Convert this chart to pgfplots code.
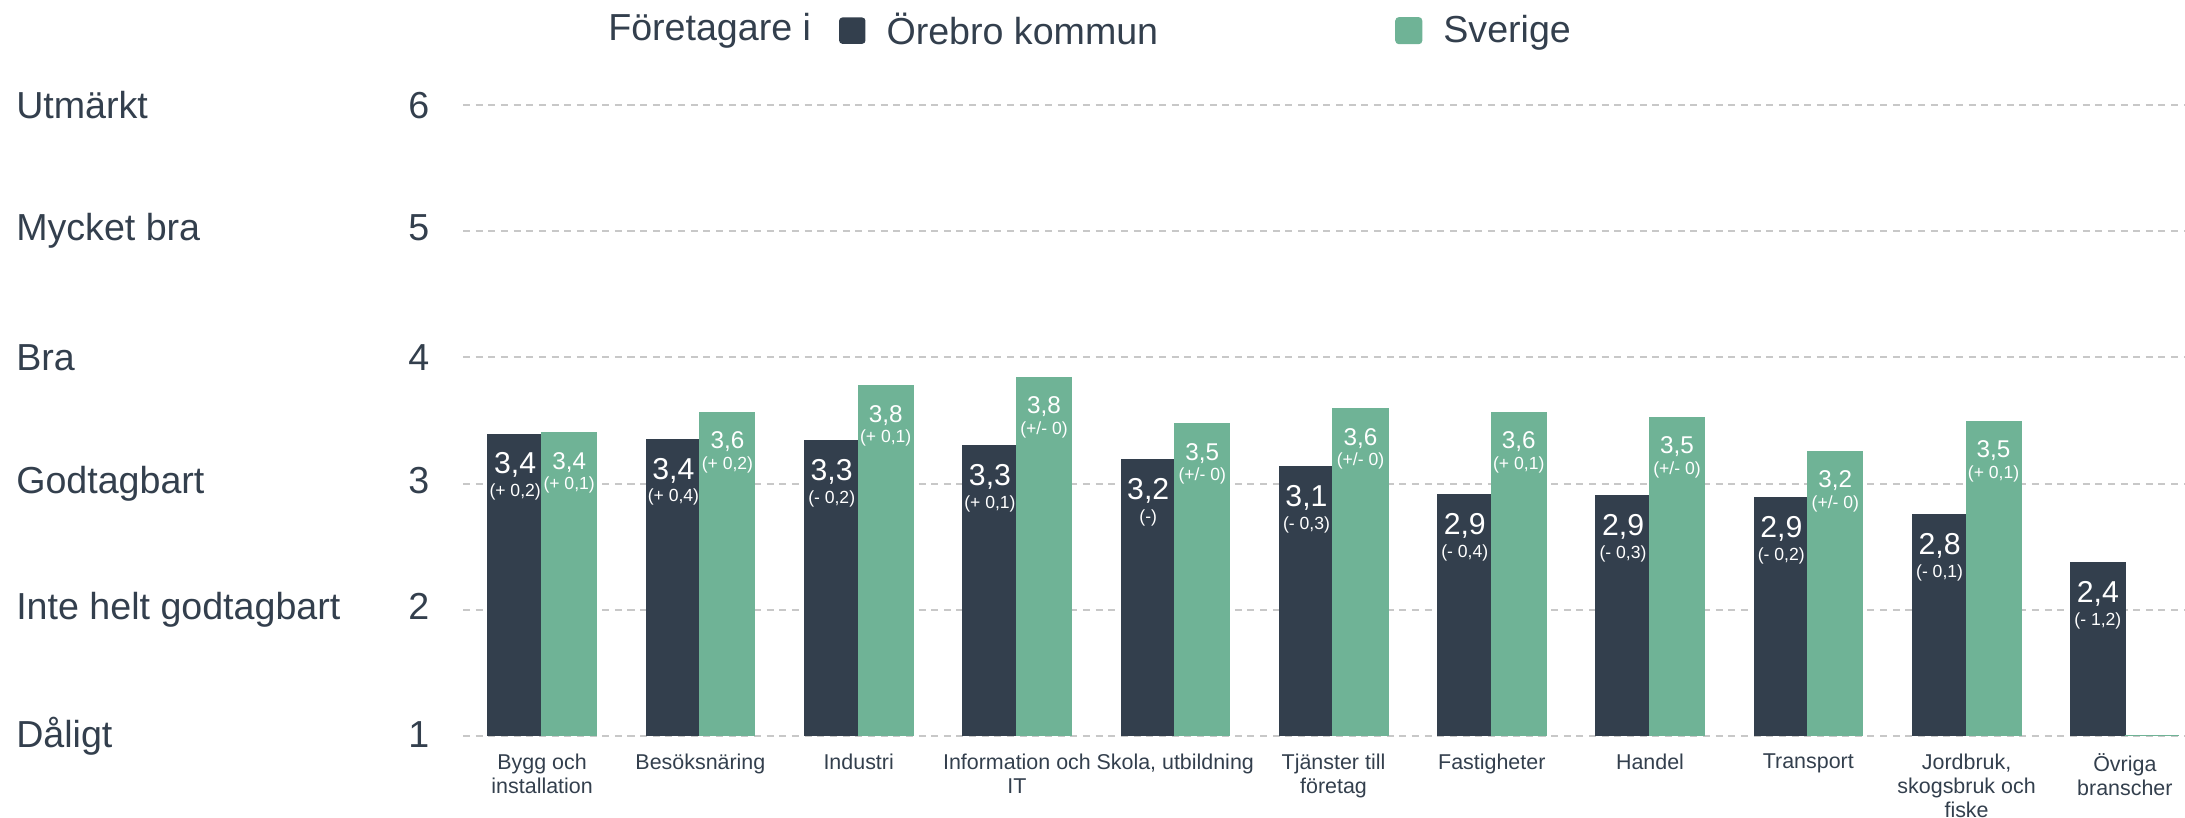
\documentclass[border=0pt]{standalone}
\usepackage{fontspec}
\setmainfont{Liberation Sans}
\usepackage{pgfplots}
\usepackage{pgfplotstable}
\pgfplotsset{compat=1.18}
\definecolor{navy}{HTML}{333F4D}
\definecolor{sgreen}{HTML}{6FB396}
\definecolor{txt}{HTML}{333F4D}
\definecolor{gridc}{HTML}{C8C8C8}

\pgfplotstableread[col sep=semicolon]{
x;y;val;delta
0;3.39;3,4;(+ 0,2)
1;3.35;3,4;(+ 0,4)
2;3.34;3,3;(- 0,2)
3;3.30;3,3;(+ 0,1)
4;3.19;3,2;(-)
5;3.13;3,1;(- 0,3)
6;2.91;2,9;(- 0,4)
7;2.90;2,9;(- 0,3)
8;2.89;2,9;(- 0,2)
9;2.75;2,8;(- 0,1)
10;2.37;2,4;(- 1,2)
}\orebro

\pgfplotstableread[col sep=semicolon]{
x;y;val;delta
0;3.40;3,4;(+ 0,1)
1;3.56;3,6;(+ 0,2)
2;3.77;3,8;(+ 0,1)
3;3.84;3,8;(+/- 0)
4;3.47;3,5;(+/- 0)
5;3.59;3,6;(+/- 0)
6;3.56;3,6;(+ 0,1)
7;3.52;3,5;(+/- 0)
8;3.25;3,2;(+/- 0)
9;3.49;3,5;(+ 0,1)
10;1.00;none;none
}\sverige

\begin{document}
\begin{tikzpicture}
\useasboundingbox (0,0) rectangle (21.85cm,8.18cm);
\begin{axis}[
  at={(4.63cm,0.82cm)}, anchor=south west,
  scale only axis, width=17.22cm, height=6.31cm,
  xmin=-0.5, xmax=10.38, ymin=1, ymax=6,
  axis line style={draw=none},
  major tick length=0pt,
  ytick={1,2,3,4,5,6},
  yticklabels={
    \makebox[3.92cm][l]{Dåligt}\makebox[0.21cm][r]{1},
    \makebox[3.92cm][l]{Inte helt godtagbart}\makebox[0.21cm][r]{2},
    \makebox[3.92cm][l]{Godtagbart}\makebox[0.21cm][r]{3},
    \makebox[3.92cm][l]{Bra}\makebox[0.21cm][r]{4},
    \makebox[3.92cm][l]{Mycket bra}\makebox[0.21cm][r]{5},
    \makebox[3.92cm][l]{Utmärkt}\makebox[0.21cm][r]{6}},
  yticklabel style={anchor=east, inner sep=0pt, xshift=-0.33cm,
    font=\fontsize{10.7}{12}\selectfont, text=txt},
  xtick={0,1,2,3,4,5,6,7,8,9,10},
  xticklabels={Bygg och\\installation, Besöksnäring, Industri, Information och\\IT,
    {Skola, utbildning}, Tjänster till\\företag, Fastigheter, Handel, Transport,
    {Jordbruk,\\skogsbruk och\\fiske}, Övriga\\branscher},
  xticklabel style={anchor=north, inner sep=0pt, yshift=-0.17cm, align=center,
    font=\fontsize{6.1}{6.9}\selectfont, text=txt},
  ymajorgrids,
  grid style={gridc, dash pattern=on 2pt off 1.6pt, line width=0.6pt},
  legend style={at={(axis description cs:0.2184,1.117)}, anchor=west,
    draw=none, fill=none, inner sep=0pt, outer sep=0pt,
    font=\fontsize{10.7}{12}\selectfont, text=txt,
    legend columns=2,
    /tikz/every even column/.append style={column sep=2.3cm}},
]
\addplot[ybar, bar width=0.54cm, bar shift=-0.27cm, fill=navy, draw=navy, line width=0.4pt,
  legend image code/.code={\fill[navy, rounded corners=0.8pt] (0cm,-0.12cm) rectangle (0.25cm,0.13cm); \path (0.39cm,0);}]
  table[x=x, y=y]{\orebro};
\addlegendentry{Örebro kommun}
\addplot[ybar, bar width=0.54cm, bar shift=0.27cm, fill=sgreen, draw=sgreen, line width=0.6pt,
  legend image code/.code={\fill[sgreen, rounded corners=0.8pt] (0cm,-0.12cm) rectangle (0.25cm,0.13cm); \path (0.39cm,0);}]
  table[x=x, y=y]{\sverige};
\addlegendentry{Sverige}

% value labels
\addplot[draw=none, forget plot, point meta=explicit symbolic, nodes near coords,
  every node near coord/.append style={anchor=center, xshift=-0.27cm, yshift=-0.31cm,
    text=white, inner sep=0pt, font=\fontsize{8.6}{9}\selectfont}]
  table[x=x, y=y, meta=val]{\orebro};
\addplot[draw=none, forget plot, point meta=explicit symbolic, nodes near coords,
  every node near coord/.append style={anchor=center, xshift=-0.27cm, yshift=-0.58cm,
    text=white, inner sep=0pt, font=\fontsize{5}{6}\selectfont}]
  table[x=x, y=y, meta=delta]{\orebro};
\addplot[draw=none, forget plot, point meta=explicit symbolic, nodes near coords,
  restrict x to domain=0:9,
  every node near coord/.append style={anchor=center, xshift=0.27cm, yshift=-0.29cm,
    text=white, inner sep=0pt, font=\fontsize{6.9}{8}\selectfont}]
  table[x=x, y=y, meta=val]{\sverige};
\addplot[draw=none, forget plot, point meta=explicit symbolic, nodes near coords,
  restrict x to domain=0:9,
  every node near coord/.append style={anchor=center, xshift=0.27cm, yshift=-0.52cm,
    text=white, inner sep=0pt, font=\fontsize{5}{6}\selectfont}]
  table[x=x, y=y, meta=delta]{\sverige};
\end{axis}
\node[anchor=west, inner sep=0pt, text=txt, font=\fontsize{10.7}{12}\selectfont]
  at (6.076cm,7.87cm) {Företagare i};
\end{tikzpicture}
\end{document}
